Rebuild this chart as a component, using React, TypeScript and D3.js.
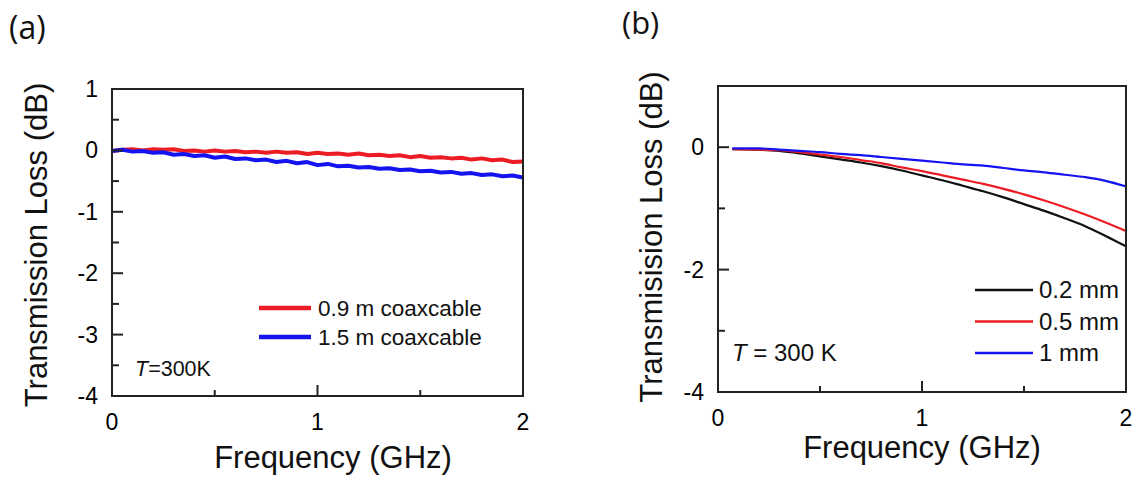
import React from "react";
import * as d3 from "d3";

// panel (a): coax cable loss
const freqA = [
  0, 0.05, 0.1, 0.15, 0.2, 0.25, 0.3, 0.35, 0.4, 0.45, 0.5, 0.55, 0.6, 0.65,
  0.7, 0.75, 0.8, 0.85, 0.9, 0.95, 1.0, 1.05, 1.1, 1.15, 1.2, 1.25, 1.3, 1.35,
  1.4, 1.45, 1.5, 1.55, 1.6, 1.65, 1.7, 1.75, 1.8, 1.85, 1.9, 1.95, 2.0,
];
const loss09m = [
  -0.01, 0.01, 0.02, 0.0, 0.02, 0.01, 0.02, -0.01, 0.0, -0.02, 0.0, -0.02,
  -0.01, -0.03, -0.02, -0.04, -0.02, -0.04, -0.03, -0.06, -0.04, -0.06, -0.05,
  -0.07, -0.05, -0.08, -0.07, -0.09, -0.08, -0.11, -0.09, -0.12, -0.11, -0.13,
  -0.12, -0.15, -0.13, -0.16, -0.15, -0.19, -0.18,
];
const loss15m = [
  -0.01, 0.01, -0.02, -0.01, -0.04, -0.03, -0.07, -0.06, -0.09, -0.08, -0.12,
  -0.1, -0.14, -0.13, -0.16, -0.15, -0.19, -0.17, -0.21, -0.19, -0.24, -0.22,
  -0.26, -0.25, -0.28, -0.27, -0.3, -0.29, -0.32, -0.31, -0.34, -0.33, -0.36,
  -0.35, -0.38, -0.37, -0.4, -0.39, -0.42, -0.41, -0.44,
];

// panel (b): gap widths
const freqB = [
  0.07, 0.2, 0.3, 0.4, 0.5, 0.6, 0.7, 0.8, 0.9, 1.0, 1.1, 1.2, 1.3, 1.4, 1.5,
  1.6, 1.7, 1.8, 1.9, 2.0,
];
const loss02mm = [
  -0.03, -0.04, -0.06, -0.1, -0.15, -0.2, -0.25, -0.31, -0.38, -0.46, -0.54,
  -0.63, -0.72, -0.82, -0.93, -1.04, -1.16, -1.29, -1.45, -1.62,
];
const loss05mm = [
  -0.03, -0.04, -0.05, -0.08, -0.12, -0.16, -0.21, -0.26, -0.33, -0.39, -0.46,
  -0.53, -0.6, -0.68, -0.77, -0.87, -0.98, -1.1, -1.23, -1.37,
];
const loss1mm = [
  -0.02, -0.02, -0.04, -0.06, -0.08, -0.11, -0.13, -0.16, -0.19, -0.22, -0.25,
  -0.28, -0.3, -0.34, -0.38, -0.41, -0.45, -0.49, -0.55, -0.64,
];

const xTicks = [0, 1, 2];
const xMinor = [0.5, 1.5];
const yTicksA = [1, 0, -1, -2, -3, -4];
const yMinorA = [0.5, -0.5, -1.5, -2.5, -3.5];
const yTicksB = [0, -2, -4];
const yMinorB = [1, -1, -3];
const namesA = ["0.9 m coaxcable", "1.5 m coaxcable"];
const namesB = ["0.2 mm", "0.5 mm", "1 mm"];

const FONT = "'Liberation Sans', Arial, sans-serif";
const RED = "#ec1c24";
const BLUE = "#1414f0";
const BLACK = "#111";
const AXIS = "#222";

type Series = { name: string; x: number[]; y: number[]; color: string };

const Panel = ({ left, right, top, bottom, yTicks, yMinor, series, smooth, lineW, tickFont }: any) => {
  const x = d3.scaleLinear().domain([0, 2]).range([left, right]);
  const y = d3.scaleLinear().domain([-4, 1]).range([bottom, top]);
  const line = d3
    .line<[number, number]>()
    .x((d) => x(d[0]))
    .y((d) => y(d[1]))
    .curve(smooth ? d3.curveMonotoneX : d3.curveLinear);

  return (
    <g>
      <defs>
        <clipPath id={`clip${left}`}>
          <rect x={left} y={top} width={right - left} height={bottom - top} />
        </clipPath>
      </defs>
      <g clipPath={`url(#clip${left})`}>
        {series.map((s: Series) => (
          <path
            key={s.name}
            d={line(s.x.map((v, i) => [v, s.y[i]]) as [number, number][]) || ""}
            fill="none"
            stroke={s.color}
            strokeWidth={lineW}
            strokeLinejoin="round"
          />
        ))}
      </g>
      {xTicks.map((t) => (
        <g key={"x" + t}>
          <line x1={x(t)} x2={x(t)} y1={bottom} y2={bottom - 11} stroke={AXIS} strokeWidth={2} />
          <text x={x(t)} y={bottom + 26} dy="0.35em" textAnchor="middle" fontSize={tickFont} fontFamily={FONT}>
            {t}
          </text>
        </g>
      ))}
      {xMinor.map((t) => (
        <line key={"xm" + t} x1={x(t)} x2={x(t)} y1={bottom} y2={bottom - 6} stroke={AXIS} strokeWidth={2} />
      ))}
      {yTicks.map((t: number) => (
        <g key={"y" + t}>
          <line x1={left} x2={left + 11} y1={y(t)} y2={y(t)} stroke={AXIS} strokeWidth={2} />
          <text x={left - 14} y={y(t)} dy="0.35em" textAnchor="end" fontSize={tickFont} fontFamily={FONT}>
            {t}
          </text>
        </g>
      ))}
      {yMinor.map((t: number) => (
        <line key={"ym" + t} x1={left} x2={left + 7} y1={y(t)} y2={y(t)} stroke={AXIS} strokeWidth={2} />
      ))}
      <rect x={left} y={top} width={right - left} height={bottom - top} fill="none" stroke={AXIS} strokeWidth={2} />
    </g>
  );
};

export default function App() {
  const seriesA: Series[] = [
    { name: namesA[0], x: freqA, y: loss09m, color: RED },
    { name: namesA[1], x: freqA, y: loss15m, color: BLUE },
  ];
  const seriesB: Series[] = [
    { name: namesB[0], x: freqB, y: loss02mm, color: BLACK },
    { name: namesB[1], x: freqB, y: loss05mm, color: RED },
    { name: namesB[2], x: freqB, y: loss1mm, color: BLUE },
  ];

  return (
    <svg
      width={1136}
      height={479}
      style={{ position: "absolute", left: 0, top: 0, background: "#fff" }}
      fontFamily={FONT}
    >
      {/* panel (a) */}
      <text x={9} y={39} fontSize={32} fontFamily="'Open Sans', 'Noto Sans', sans-serif" fill="#111">
        (a)
      </text>
      <Panel
        left={112}
        right={523}
        top={89}
        bottom={396}
        yTicks={yTicksA}
        yMinor={yMinorA}
        series={seriesA}
        smooth={false}
        lineW={4}
        tickFont={23}
      />
      <text transform="translate(36,245) rotate(-90)" textAnchor="middle" dy="0.35em" fontSize={31} fill="#111">
        Transmission Loss (dB)
      </text>
      <text x={333} y={468} textAnchor="middle" fontSize={31} fill="#111">
        Frequency (GHz)
      </text>
      {seriesA.map((s, i) => (
        <g key={s.name}>
          <line x1={259} x2={311} y1={308 + i * 29} y2={308 + i * 29} stroke={s.color} strokeWidth={4.5} />
          <text x={318} y={308 + i * 29} dy="0.35em" fontSize={22.5} fill="#111">
            {s.name}
          </text>
        </g>
      ))}
      <text x={135} y={368} dy="0.35em" fontSize={21.5} fill="#111">
        <tspan fontStyle="italic">T</tspan>=300K
      </text>

      {/* panel (b) */}
      <text x={622} y={34} fontSize={31} fontFamily="'Open Sans', 'Noto Sans', sans-serif" fill="#111">
        (b)
      </text>
      <Panel
        left={718}
        right={1126}
        top={86}
        bottom={392}
        yTicks={yTicksB}
        yMinor={yMinorB}
        series={seriesB}
        smooth={true}
        lineW={2.2}
        tickFont={23}
      />
      <text transform="translate(651,237) rotate(-90)" textAnchor="middle" dy="0.35em" fontSize={31} fill="#111">
        Transmisision Loss (dB)
      </text>
      <text x={922} y={458} textAnchor="middle" fontSize={31} fill="#111">
        Frequency (GHz)
      </text>
      {seriesB.map((s, i) => (
        <g key={s.name}>
          <line x1={975} x2={1033} y1={290 + i * 31.5} y2={290 + i * 31.5} stroke={s.color} strokeWidth={2.5} />
          <text x={1039} y={290 + i * 31.5} dy="0.35em" fontSize={24} fill="#111">
            {s.name}
          </text>
        </g>
      ))}
      <text x={732} y={353} dy="0.35em" fontSize={24} fill="#111">
        <tspan fontStyle="italic">T</tspan> = 300 K
      </text>
    </svg>
  );
}
